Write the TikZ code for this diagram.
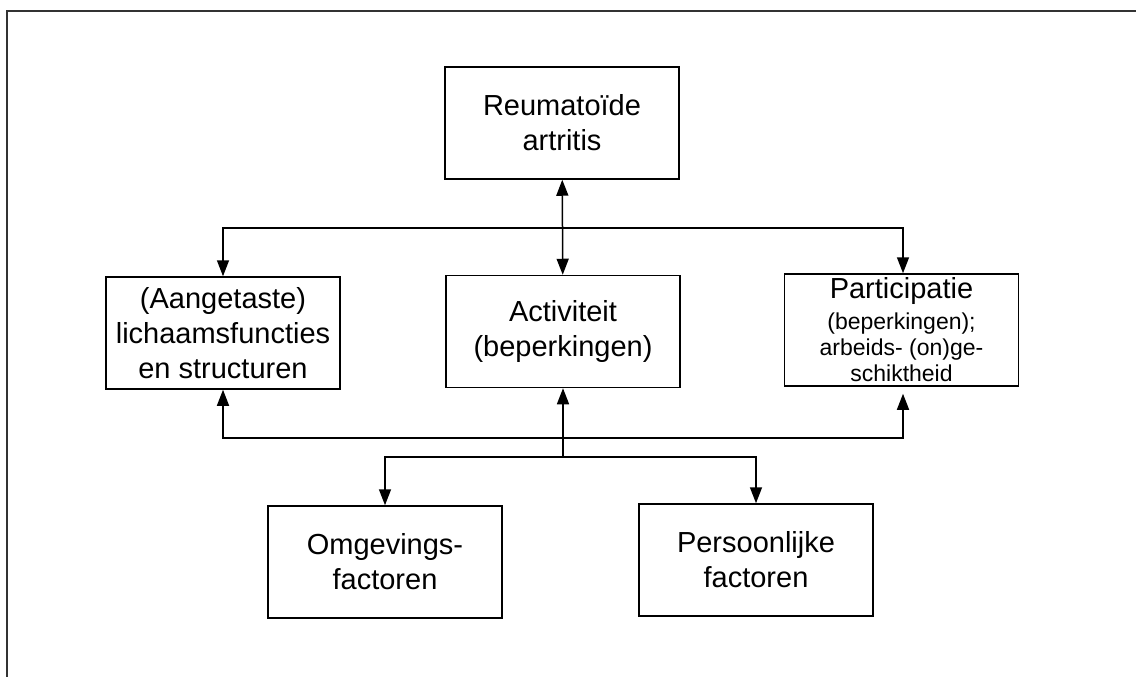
\documentclass[tikz,border=0pt]{standalone}
\usepackage{fontspec}
\setmainfont{Liberation Sans}
\usepackage{tikz}
\usetikzlibrary{arrows.meta}
\newcommand{\widthbox}{234pt}
\newcommand{\heightbox}{112pt}
\tikzset{
    box/.style={draw, rectangle, line width=1.5pt, minimum width=\widthbox, minimum height=\heightbox,
        inner sep=0pt, align=center, font=\fontsize{29}{35}\selectfont},
    smallbox/.style={box, font=\fontsize{23}{26}\selectfont},
    link/.style={line width=1.5pt},
    frame/.style={line width=1.6pt, draw=black!80}
}

\begin{document}
\begin{tikzpicture}[x=1pt, y=-1pt, >={Triangle[length=16pt, width=12pt]}]
      \useasboundingbox (0,0) rectangle (1136,677);
      \draw[frame] (7,677) -- (7,11) -- (1136,11);

      \node[box] (ra) at (562,123) {Reumatoïde\\artritis};

      \node[box] (functies) at (223,333) {(Aangetaste)\\lichaamsfuncties\\en structuren};
      \node[box] (activiteit) at (563,331.5) {Activiteit\\(beperkingen)};
      \node[smallbox] (participatie) at (901.5,330)
          {{\fontsize{29}{33}\selectfont Participatie}\\[5pt](beperkingen);\\arbeids- (on)ge-\\schiktheid};

      \node[box] (omgeving) at (385,562) {Omgevings-\\factoren};
      \node[box] (persoon) at (756,560) {Persoonlijke\\factoren};

      \coordinate (top-split) at (563,228);
      \coordinate (mid-split) at (563,438);
      \coordinate (low-split) at (563,457);

      % upper tree
      \draw[link, <->] (ra) -- (activiteit);
      \draw[link, ->] (top-split) -| (functies.north);
      \draw[link, ->] (top-split) -| ([xshift=1.5pt]participatie.north);

      % lower tree
      \draw[link, ->] (low-split) -- (activiteit);
      \draw[link, ->] (mid-split) -| (functies.south);
      \draw[link, ->, shorten >=7pt] (mid-split) -| ([xshift=1.5pt]participatie.south);
      \draw[link, ->] (low-split) -| (omgeving.north);
      \draw[link, ->] (low-split) -| (persoon.north);
    \end{tikzpicture}
\end{document}
